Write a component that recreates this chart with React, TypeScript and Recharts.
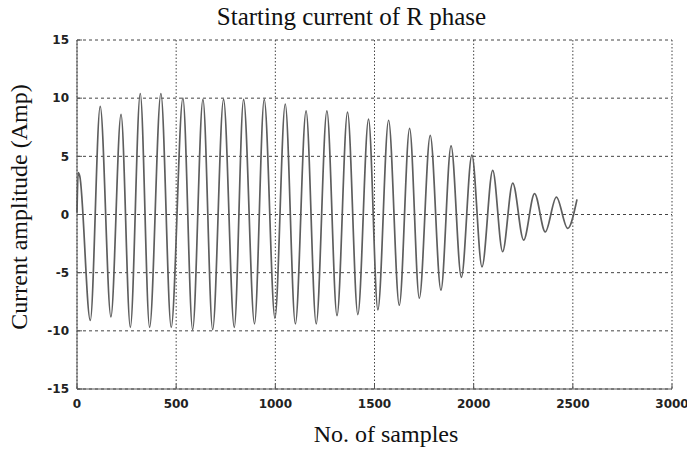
import React from 'react'
import { LineChart, Line, XAxis, YAxis, CartesianGrid, Label } from 'recharts'

// peaks and troughs of the waveform
const samples = [
  0, 6, 14, 67, 117, 171, 222, 269, 319, 366, 423, 475, 534,
  583, 635, 684, 739, 793, 840, 895, 944, 998, 1050,
  1101, 1155, 1206, 1260, 1311, 1364, 1416, 1470, 1517, 1571,
  1625, 1677, 1726, 1781, 1835, 1886, 1938, 1991, 2042, 2096,
  2146, 2197, 2252, 2307, 2361, 2417, 2474, 2521,
]
const amps = [
  0.2, 3.6, 3.3, -9.1, 9.3, -8.8, 8.6, -9.7, 10.4, -9.7, 10.4, -9.7, 10.0,
  -9.9, 9.9, -9.9, 9.9, -9.7, 9.9, -9.4, 9.9, -8.9, 9.5,
  -9.4, 8.9, -9.4, 8.9, -8.7, 8.8, -8.6, 8.2, -8.2, 8.1,
  -7.8, 7.4, -7.2, 6.8, -6.5, 5.9, -5.4, 5.1, -4.5, 3.8,
  -3.2, 2.7, -2.2, 1.8, -1.5, 1.5, -1.2, 1.3,
]
const xTicks = [0, 500, 1000, 1500, 2000, 2500, 3000]
const yTicks = [-15, -10, -5, 0, 5, 10, 15]

const title = 'Starting current of R phase'
const xTitle = 'No. of samples'
const yTitle = 'Current amplitude (Amp)'

const serif = '"Liberation Serif", "Times New Roman", serif'
const tickStyle = { fontFamily: '"DejaVu Sans", sans-serif', fontSize: 12, fontWeight: 700, fill: '#222' }

const data = samples.map((s, i) => ({ s, a: amps[i] }))

const App = () => {
  return (
    <div style={{ position: 'absolute', left: 0, top: 0, width: 687, height: 449, background: '#fff' }}>
      <div
        style={{
          position: 'absolute', left: 200, width: 303, top: 2, textAlign: 'center',
          fontFamily: serif, fontSize: 25, color: '#111', lineHeight: '30px',
        }}
      >
        {title}
      </div>
      <LineChart width={687} height={449} data={data} margin={{ top: 40, right: 15, left: 17, bottom: 30 }}>
        <CartesianGrid vertical={false} stroke="#444" strokeDasharray="3 3" />
        <CartesianGrid horizontal={false} stroke="#444" strokeDasharray="1.5 2" />
        <XAxis
          dataKey="s"
          type="number"
          domain={[0, 3000]}
          ticks={xTicks}
          height={30}
          stroke="#555"
          tickSize={-5}
          tickMargin={15}
          tick={tickStyle}
          interval={0}
        >
          <Label
            content={() => (
              <text x={386} y={442} textAnchor="middle" fontFamily={serif} fontSize={24} fill="#111">
                {xTitle}
              </text>
            )}
          />
        </XAxis>
        <XAxis xAxisId="t" orientation="top" type="number" domain={[0, 3000]} ticks={xTicks} height={0} stroke="#555" tickSize={-5} tick={false} />
        <YAxis
          type="number"
          domain={[-15, 15]}
          ticks={yTicks}
          width={60}
          stroke="#555"
          tickSize={-5}
          tickMargin={13}
          tick={tickStyle}
          interval={0}
        >
          <Label
            content={() => (
              <text
                transform="rotate(-90)"
                x={-207}
                y={27}
                textAnchor="middle"
                fontFamily={serif}
                fontSize={24}
                fill="#111"
              >
                {yTitle}
              </text>
            )}
          />
        </YAxis>
        <YAxis yAxisId="r" orientation="right" type="number" domain={[-15, 15]} ticks={yTicks} width={0} stroke="#555" tickSize={-5} tick={false} />
        <Line
          type="monotone"
          dataKey="a"
          stroke="#5e5e5e"
          strokeWidth={1.7}
          dot={false}
          isAnimationActive={false}
        />
      </LineChart>
    </div>
  )
}

export default App
